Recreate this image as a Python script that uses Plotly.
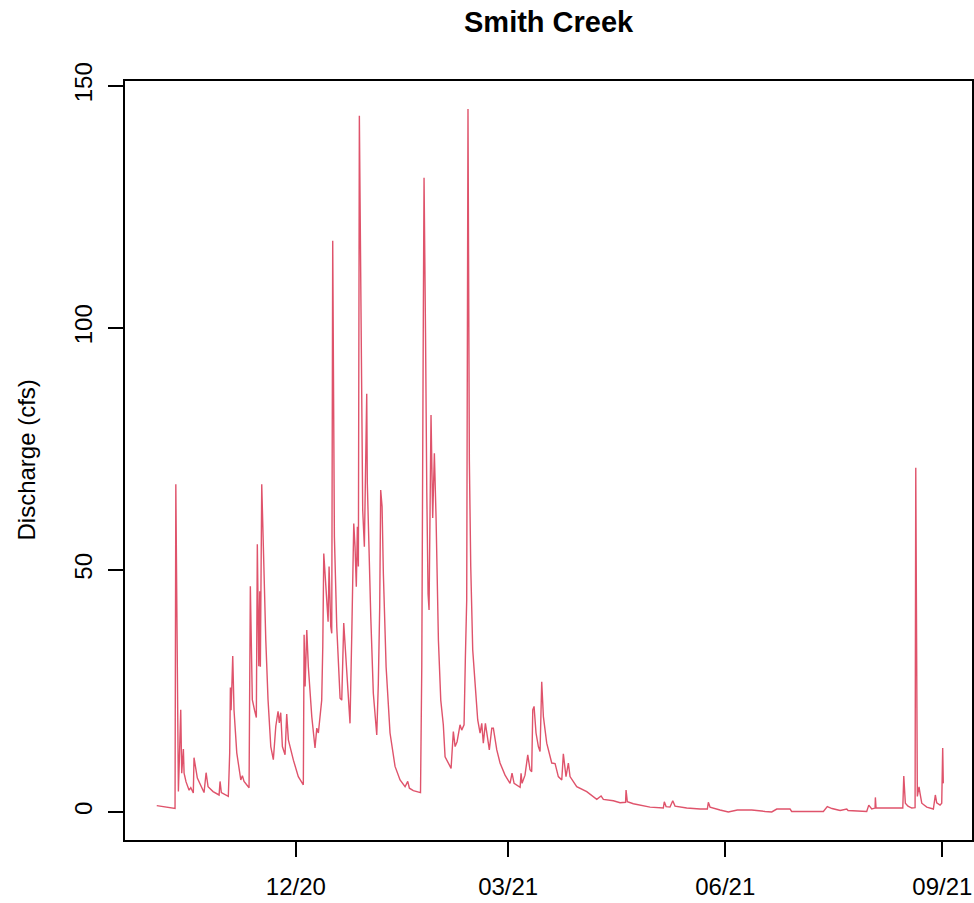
import plotly.graph_objects as go

# Smith Creek discharge (cfs), readings taken from the reference hydrograph
dates = [
    "2020-10-03 01:00", "2020-10-06 13:00", "2020-10-10 19:00", "2020-10-11 03:00", "2020-10-12 05:00",
    "2020-10-12 15:00", "2020-10-13 05:00", "2020-10-13 15:00", "2020-10-14 08:00", "2020-10-14 15:00",
    "2020-10-15 11:00", "2020-10-16 18:00", "2020-10-17 11:00", "2020-10-18 13:00", "2020-10-18 20:00",
    "2020-10-20 06:00", "2020-10-22 09:00", "2020-10-23 02:00", "2020-10-23 23:00", "2020-10-24 19:00",
    "2020-10-26 22:00", "2020-10-29 11:00", "2020-10-29 21:00", "2020-10-30 10:00", "2020-11-02 09:00",
    "2020-11-02 23:00", "2020-11-03 06:00", "2020-11-03 13:00", "2020-11-03 23:00", "2020-11-04 06:00",
    "2020-11-04 19:00", "2020-11-05 23:00", "2020-11-07 16:00", "2020-11-08 08:00", "2020-11-09 01:00",
    "2020-11-11 04:00", "2020-11-11 17:00", "2020-11-12 13:00", "2020-11-13 12:00", "2020-11-14 06:00",
    "2020-11-14 16:00", "2020-11-15 07:00", "2020-11-15 17:00", "2020-11-15 23:00", "2020-11-16 13:00",
    "2020-11-16 23:00", "2020-11-17 12:00", "2020-11-18 06:00", "2020-11-19 05:00", "2020-11-20 09:00",
    "2020-11-21 11:00", "2020-11-22 12:00", "2020-11-23 11:00", "2020-11-24 00:00", "2020-11-24 14:00",
    "2020-11-25 07:00", "2020-11-26 10:00", "2020-11-27 03:00", "2020-11-27 20:00", "2020-11-29 23:00",
    "2020-12-02 01:00", "2020-12-04 04:00", "2020-12-04 12:00", "2020-12-04 22:00", "2020-12-05 15:00",
    "2020-12-06 07:00", "2020-12-07 18:00", "2020-12-09 03:00", "2020-12-09 21:00", "2020-12-10 13:00",
    "2020-12-11 23:00", "2020-12-12 10:00", "2020-12-12 20:00", "2020-12-13 09:00", "2020-12-14 02:00",
    "2020-12-14 16:00", "2020-12-15 02:00", "2020-12-15 19:00", "2020-12-16 05:00", "2020-12-16 15:00",
    "2020-12-17 08:00", "2020-12-18 08:00", "2020-12-19 18:00", "2020-12-20 11:00", "2020-12-20 21:00",
    "2020-12-21 07:00", "2020-12-22 00:00", "2020-12-23 06:00", "2020-12-23 23:00", "2020-12-24 17:00",
    "2020-12-25 13:00", "2020-12-26 02:00", "2020-12-26 15:00", "2020-12-27 02:00", "2020-12-27 12:00",
    "2020-12-27 22:00", "2020-12-28 22:00", "2020-12-29 08:00", "2020-12-30 01:00", "2020-12-31 01:00",
    "2020-12-31 07:00", "2021-01-01 00:00", "2021-01-01 18:00", "2021-01-02 20:00", "2021-01-04 07:00",
    "2021-01-04 23:00", "2021-01-05 13:00", "2021-01-05 23:00", "2021-01-06 13:00", "2021-01-07 02:00",
    "2021-01-08 06:00", "2021-01-09 22:00", "2021-01-12 01:00", "2021-01-14 04:00", "2021-01-16 07:00",
    "2021-01-17 10:00", "2021-01-18 03:00", "2021-01-19 19:00", "2021-01-22 20:00", "2021-01-23 09:00",
    "2021-01-23 17:00", "2021-01-24 01:00", "2021-01-24 08:00", "2021-01-24 15:00", "2021-01-24 23:00",
    "2021-01-25 12:00", "2021-01-26 01:00", "2021-01-26 11:00", "2021-01-27 07:00", "2021-01-28 00:00",
    "2021-01-28 17:00", "2021-01-29 10:00", "2021-01-29 23:00", "2021-01-30 10:00", "2021-01-31 10:00",
    "2021-02-01 12:00", "2021-02-02 06:00", "2021-02-03 15:00", "2021-02-04 19:00", "2021-02-05 18:00",
    "2021-02-06 12:00", "2021-02-07 08:00", "2021-02-08 14:00", "2021-02-09 07:00", "2021-02-10 07:00",
    "2021-02-10 20:00", "2021-02-11 10:00", "2021-02-11 23:00", "2021-02-12 13:00", "2021-02-13 03:00",
    "2021-02-13 23:00", "2021-02-14 23:00", "2021-02-16 02:00", "2021-02-17 02:00", "2021-02-17 19:00",
    "2021-02-18 11:00", "2021-02-19 08:00", "2021-02-20 04:00", "2021-02-21 00:00", "2021-02-22 01:00",
    "2021-02-22 17:00", "2021-02-24 04:00", "2021-02-25 13:00", "2021-02-27 16:00", "2021-03-01 19:00",
    "2021-03-02 15:00", "2021-03-03 12:00", "2021-03-06 01:00", "2021-03-06 11:00", "2021-03-06 21:00",
    "2021-03-08 03:00", "2021-03-09 07:00", "2021-03-10 06:00", "2021-03-10 23:00", "2021-03-11 10:00",
    "2021-03-11 23:00", "2021-03-12 09:00", "2021-03-12 19:00", "2021-03-13 19:00", "2021-03-14 12:00",
    "2021-03-15 05:00", "2021-03-15 22:00", "2021-03-17 08:00", "2021-03-19 11:00", "2021-03-20 21:00",
    "2021-03-22 06:00", "2021-03-23 17:00", "2021-03-24 09:00", "2021-03-25 12:00", "2021-03-26 12:00",
    "2021-03-27 05:00", "2021-03-30 01:00", "2021-04-03 07:00", "2021-04-07 13:00", "2021-04-09 09:00",
    "2021-04-10 08:00", "2021-04-14 14:00", "2021-04-17 10:00", "2021-04-19 18:00", "2021-04-19 23:00",
    "2021-04-20 12:00", "2021-04-23 01:00", "2021-04-30 03:00", "2021-05-05 18:00", "2021-05-06 04:00",
    "2021-05-06 22:00", "2021-05-08 14:00", "2021-05-09 18:00", "2021-05-10 17:00", "2021-05-15 16:00",
    "2021-05-21 08:00", "2021-05-24 10:00", "2021-05-24 20:00", "2021-05-25 13:00", "2021-05-29 19:00",
    "2021-06-02 07:00", "2021-06-06 03:00", "2021-06-12 06:00", "2021-06-17 21:00", "2021-06-20 17:00",
    "2021-06-22 20:00", "2021-06-28 11:00", "2021-06-29 04:00", "2021-07-12 14:00", "2021-07-14 06:00",
    "2021-07-16 06:00", "2021-07-19 16:00", "2021-07-22 12:00", "2021-07-23 01:00", "2021-07-30 23:00",
    "2021-07-31 20:00", "2021-08-02 02:00", "2021-08-03 12:00", "2021-08-03 15:00", "2021-08-03 22:00",
    "2021-08-09 20:00", "2021-08-15 06:00", "2021-08-15 16:00", "2021-08-16 08:00", "2021-08-17 11:00",
    "2021-08-19 01:00", "2021-08-20 11:00", "2021-08-20 18:00", "2021-08-21 10:00", "2021-08-22 03:00",
    "2021-08-22 13:00", "2021-08-23 07:00", "2021-08-25 10:00", "2021-08-28 05:00", "2021-08-29 01:00",
    "2021-08-29 15:00", "2021-08-31 01:00", "2021-08-31 18:00", "2021-09-01 04:00", "2021-09-01 10:00",
]

discharge = [
    1.3, 1.0, 0.7, 67.7, 4.2,
    10.8, 21.1, 8.0, 13.0, 8.0,
    6.2, 4.5, 5.0, 3.9, 11.2,
    7.0, 4.5, 4.0, 8.1, 5.2,
    4.2, 3.5, 6.3, 4.0, 3.2,
    12.2, 25.7, 21.0, 27.3, 32.2,
    21.0, 12.2, 6.6, 7.5, 6.3,
    5.0, 46.6, 23.2, 21.0, 19.5,
    55.3, 30.1, 45.6, 30.0, 67.7,
    59.8, 48.0, 35.6, 23.2, 13.5,
    10.8, 17.7, 20.8, 18.4, 20.5,
    13.5, 11.8, 20.2, 14.9, 10.7,
    7.3, 5.6, 36.6, 25.9, 37.6,
    30.0, 19.7, 13.2, 17.3, 16.3,
    23.1, 34.2, 53.4, 47.9, 43.8,
    39.3, 50.7, 38.3, 36.9, 118.0,
    56.9, 38.3, 23.5, 23.1, 29.3,
    39.0, 33.5, 23.1, 18.3, 36.9,
    59.6, 54.8, 46.5, 58.9, 50.7,
    143.8, 72.7, 62.4, 54.8, 86.4,
    67.9, 52.7, 40.4, 24.5, 15.9,
    26.6, 42.4, 66.5, 63.1, 49.3,
    30.0, 16.3, 9.4, 6.6, 5.2,
    6.3, 4.9, 4.4, 4.0, 30.0,
    98.0, 104.0, 131.0, 106.0, 99.0,
    65.9, 45.0, 41.7, 82.0, 60.7,
    74.1, 61.0, 49.3, 35.5, 23.1,
    18.0, 11.4, 10.1, 9.0, 16.6,
    13.5, 14.5, 18.0, 16.9, 18.0,
    31.4, 43.8, 145.2, 72.7, 50.7,
    33.5, 26.6, 19.0, 16.3, 18.3,
    14.2, 18.3, 15.6, 12.8, 17.3,
    17.3, 12.8, 10.1, 7.6, 5.9,
    8.0, 5.9, 5.1, 8.0, 5.9,
    7.6, 11.8, 8.7, 8.3, 21.1,
    21.8, 19.0, 16.3, 13.5, 12.5,
    26.9, 19.7, 14.2, 10.1, 10.0,
    7.3, 6.6, 12.0, 7.3, 10.1,
    7.3, 5.2, 4.2, 2.6, 3.3,
    2.6, 2.3, 1.9, 2.0, 4.5,
    2.1, 1.7, 1.0, 0.8, 2.1,
    1.1, 1.0, 2.3, 1.2, 0.8,
    0.6, 0.6, 2.0, 1.0, 0.4,
    0.0, 0.4, 0.4, 0.1, 0.0,
    0.6, 0.6, 0.1, 0.1, 1.1,
    0.7, 0.3, 0.6, 0.3, 0.1,
    1.4, 0.6, 0.8, 3.0, 0.8,
    0.8, 0.8, 7.4, 1.8, 1.2,
    0.8, 0.9, 71.1, 3.2, 5.2,
    3.9, 1.8, 1.0, 0.6, 3.5,
    1.9, 1.4, 1.8, 13.2, 5.9,
]

x_tick_dates = ["2020-12-01", "2021-03-01", "2021-06-01", "2021-09-01"]
x_tick_labels = ["12/20", "03/21", "06/21", "09/21"]
y_tick_values = [0, 50, 100, 150]

FONT = "Liberation Sans, Arial, Helvetica, sans-serif"

fig = go.Figure(
    go.Scatter(
        x=dates,
        y=discharge,
        mode="lines",
        line=dict(color="#DF536B", width=1.4),
        hoverinfo="x+y",
    )
)

axis_common = dict(
    showline=True,
    linecolor="black",
    linewidth=1.5,
    mirror=True,
    showgrid=False,
    zeroline=False,
    ticks="outside",
    ticklen=15,
    tickwidth=1.5,
    tickcolor="black",
    tickfont=dict(family=FONT, size=24, color="black"),
    automargin=False,
)

fig.update_layout(
    width=974,
    height=903,
    margin=dict(l=125, r=2, t=81, b=63),
    paper_bgcolor="white",
    plot_bgcolor="white",
    showlegend=False,
    xaxis=dict(
        range=["2020-09-19 14:00", "2021-09-13 14:00"],
        tickvals=x_tick_dates,
        ticktext=x_tick_labels,
        ticklabelstandoff=9,
        **axis_common,
    ),
    yaxis=dict(
        range=[-5.8, 151.0],
        tickvals=y_tick_values,
        tickangle=-90,
        ticklabelstandoff=7,
        **axis_common,
    ),
    annotations=[
        dict(
            text="<b>Smith Creek</b>",
            xref="paper", yref="paper",
            x=0.5, y=1 + (81 - 22) / 759,
            xanchor="center", yanchor="middle",
            showarrow=False,
            font=dict(family=FONT, size=29, color="black"),
        ),
        dict(
            text="Discharge (cfs)",
            xref="paper", yref="paper",
            x=-(125 - 26) / 847, y=0.5,
            xanchor="center", yanchor="middle",
            textangle=-90,
            showarrow=False,
            font=dict(family=FONT, size=24, color="black"),
        ),
    ],
)

fig.write_html(
    "out.html",
    config={"displayModeBar": False},
    post_script="document.body.style.margin='0';document.body.style.padding='0';",
)
